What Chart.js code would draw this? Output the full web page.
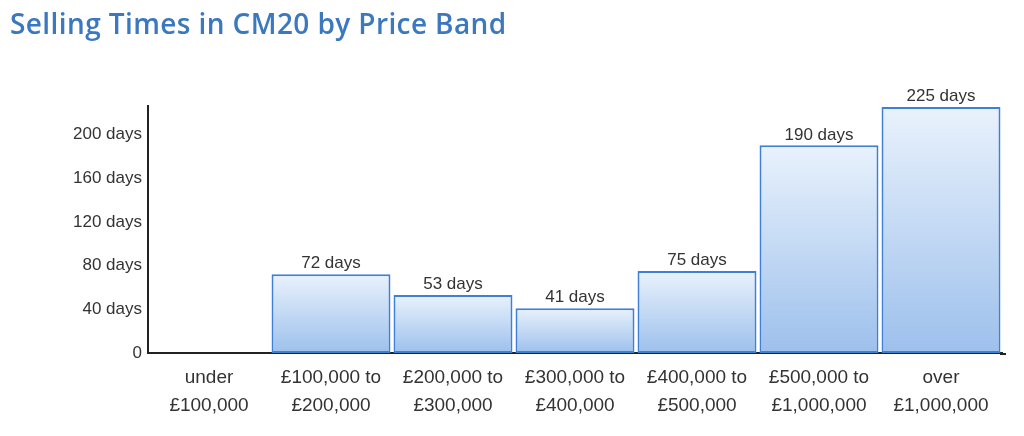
<!DOCTYPE html>
<html>
<head>
<meta charset="utf-8">
<script src="https://cdn.jsdelivr.net/npm/chart.js@4"></script>
<style>
  body { margin: 0; background: #fff; }
  #wrap { position: relative; width: 1024px; height: 436px; }
  #title {
    position: absolute; left: 10px; top: 3px;
    font-family: "Open Sans", sans-serif; font-weight: 600; font-size: 28px;
    color: #3b78bf; letter-spacing: 0.4px; line-height: 40px;
  }
</style>
</head>
<body>
<div id="wrap">
  <div id="title">Selling Times in CM20 by Price Band</div>
  <canvas id="sellingChart" width="1024" height="436"></canvas>
</div>
<script>
const priceBands = [
    ['under', '£100,000'],
    ['£100,000 to', '£200,000'],
    ['£200,000 to', '£300,000'],
    ['£300,000 to', '£400,000'],
    ['£400,000 to', '£500,000'],
    ['£500,000 to', '£1,000,000'],
    ['over', '£1,000,000']
];
const sellingDays = [0, 72, 53, 41, 75, 190, 225];
const yTicks = [0, 40, 80, 120, 160, 200];

// each bar gets its own gradient, light at the top
function barFill(c) {
    const chart = c.chart;
    const yScale = chart.scales.y;
    if (!yScale || c.dataIndex === undefined) return '#bcd4f2';
    const top = yScale.getPixelForValue(sellingDays[c.dataIndex]);
    const base = yScale.getPixelForValue(0);
    if (!isFinite(top) || !isFinite(base) || base - top < 1) return '#bcd4f2';
    const g = chart.ctx.createLinearGradient(0, top, 0, base);
    g.addColorStop(0, '#e9f2fc');
    g.addColorStop(1, '#9dc0ec');
    return g;
}

// value labels above bars, plus the x axis line running a little past the last bar
const valueLabels = {
    id: 'valueLabels',
    afterDatasetsDraw(chart) {
        const ctx = chart.ctx;
        const area = chart.chartArea;
        ctx.save();
        ctx.strokeStyle = '#222';
        ctx.lineWidth = 2;
        ctx.beginPath();
        ctx.moveTo(area.right - 2, area.bottom + 1);
        ctx.lineTo(area.right + 4, area.bottom + 1);
        ctx.stroke();

        ctx.font = '17px "Liberation Sans", Arial, sans-serif';
        ctx.fillStyle = '#333';
        ctx.textAlign = 'center';
        ctx.textBaseline = 'bottom';
        chart.getDatasetMeta(0).data.forEach((bar, i) => {
            if (!sellingDays[i]) return;
            ctx.fillText(sellingDays[i] + ' days', bar.x, bar.y - 2);
        });
        ctx.restore();
    }
};

Chart.defaults.font.family = '"Liberation Sans", Arial, sans-serif';
Chart.defaults.color = '#333';

new Chart(document.getElementById('sellingChart'), {
    type: 'bar',
    data: {
        labels: priceBands,
        datasets: [{
            data: sellingDays,
            backgroundColor: barFill,
            borderColor: '#3f7fd6',
            borderWidth: 2,
            borderSkipped: false,
            barPercentage: 1,
            categoryPercentage: 0.975
        }]
    },
    options: {
        responsive: false,
        animation: false,
        layout: { padding: { top: 106, right: 22, left: 0, bottom: 0 } },
        plugins: { legend: { display: false }, tooltip: { enabled: false } },
        scales: {
            x: {
                grid: { display: false, drawTicks: false },
                border: { display: true, color: '#222', width: 2 },
                ticks: {
                    font: { size: 19, lineHeight: 1.48 },
                    color: '#333',
                    padding: 11,
                    maxRotation: 0
                },
                afterFit(scale) { scale.height = 83; }
            },
            y: {
                min: 0,
                max: 226,
                grid: { display: false, drawTicks: false },
                border: { display: true, color: '#222', width: 2 },
                afterBuildTicks(scale) {
                    scale.ticks = yTicks.map(v => ({ value: v }));
                },
                ticks: {
                    font: { size: 17 },
                    color: '#333',
                    padding: 6,
                    callback: v => v === 0 ? '0' : v + ' days'
                },
                afterFit(scale) { scale.width = 148; }
            }
        }
    },
    plugins: [valueLabels]
});
</script>
</body>
</html>
